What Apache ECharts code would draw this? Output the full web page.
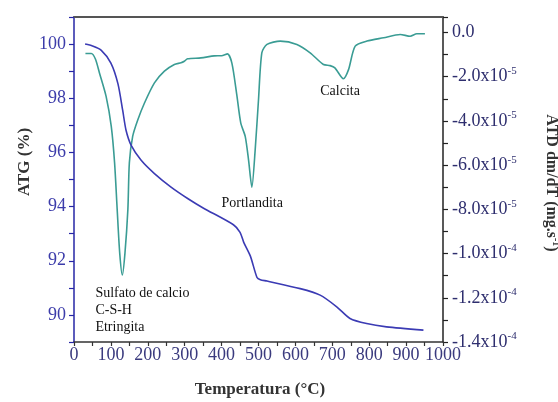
<!DOCTYPE html>
<html><head><meta charset="utf-8">
<script src="https://cdn.jsdelivr.net/npm/echarts@6/dist/echarts.min.js"></script>
<style>html,body{margin:0;padding:0;background:#fff}#c{width:558px;height:402px}</style>
</head><body><div id="c"></div>
<script>
// TGA: temperature (°C) and mass (%)
const tgaTemp = [30, 50, 74, 100, 119, 132, 141, 155, 182, 218, 263, 308, 350, 432, 450, 460, 478, 496, 505, 523, 613, 667, 712, 748, 793, 847, 947];
const tgaMass = [100.0, 99.93, 99.77, 99.3, 98.54, 97.55, 96.82, 96.26, 95.71, 95.22, 94.72, 94.30, 93.95, 93.33, 93.05, 92.68, 92.17, 91.38, 91.3, 91.25, 90.97, 90.73, 90.30, 89.87, 89.68, 89.56, 89.44];
// DTA: temperature (°C) and dm/dT in units of 1e-5 mg/s
const dtaTemp = [31, 47, 58, 69, 87, 101, 110, 117, 124, 131, 138, 146, 150, 159, 173, 191, 218, 245, 272, 290, 299, 308, 344, 380, 400, 416, 428, 441, 452, 464, 473, 482, 491, 500, 509, 523, 559, 604, 640, 676, 694, 707, 730, 744, 762, 794, 839, 884, 911, 929, 951];
const dtaRateE5 = [-0.95, -0.95, -1.2, -1.83, -2.89, -4.25, -5.9, -8.0, -10.0, -10.97, -10.0, -8.0, -5.9, -4.7, -3.95, -3.19, -2.28, -1.75, -1.45, -1.37, -1.30, -1.19, -1.15, -1.06, -1.05, -0.97, -1.4, -2.8, -4.1, -4.7, -5.76, -7.0, -5.31, -3.04, -0.92, -0.54, -0.39, -0.54, -0.92, -1.45, -1.50, -1.60, -2.09, -1.68, -0.62, -0.39, -0.24, -0.09, -0.17, -0.06, -0.06];
// right axis tick labels
const rightTickValues = [0, -2, -4, -6, -8, -10, -12, -14];
const rightTickMantissa = ['0.0', '-2.0', '-4.0', '-6.0', '-8.0', '-1.0', '-1.2', '-1.4'];
const rightTickExp = ['', '-5', '-5', '-5', '-5', '-4', '-4', '-4'];
// annotations: [temperature, ATG %, text]
const annotTemp = [721, 483, 58];
const annotMass = [98.25, 94.12, 91.1];
const annotText = ['Calcita', 'Portlandita', 'Sulfato de calcio\nC-S-H\nEtringita'];

const serif = '"Liberation Serif","DejaVu Serif",serif';
const chart = echarts.init(document.getElementById('c'), null, {renderer: 'canvas'});
const tgaData = tgaTemp.map((t, i) => [t, tgaMass[i]]);
const dtaData = dtaTemp.map((t, i) => [t, dtaRateE5[i]]);

const option = {
  animation: false,
  backgroundColor: '#fff',
  grid: {left: 74, right: 115, top: 17, bottom: 60, containLabel: false},
  xAxis: [{
    type: 'value', position: 'bottom', min: 0, max: 1000, interval: 50,
    axisLine: {show: true, onZero: false, lineStyle: {color: '#333', width: 1.5}},
    axisTick: {show: true, inside: false, length: 4, lineStyle: {color: '#333', width: 1.2}},
    axisLabel: {margin: 4, fontSize: 18, fontFamily: serif, color: '#3a3a7e',
      formatter: v => (Math.round(v) % 100 === 0 ? String(Math.round(v)) : '')},
    splitLine: {show: false}
  }, {
    type: 'value', position: 'top', min: 0, max: 1000,
    axisLine: {show: true, onZero: false, lineStyle: {color: '#555', width: 2}},
    axisTick: {show: false}, axisLabel: {show: false}, splitLine: {show: false}
  }],
  yAxis: [{
    type: 'value', position: 'left', min: 89, max: 101, interval: 1,
    axisLine: {show: true, onZero: false, lineStyle: {color: '#2626a6', width: 1.5}},
    axisTick: {show: true, inside: false, length: 5, lineStyle: {color: '#2626a6', width: 1.2}},
    axisLabel: {margin: 8, fontSize: 18, fontFamily: serif, color: '#3c3caa',
      formatter: v => (Math.round(v) % 2 === 0 ? String(Math.round(v)) : '')},
    splitLine: {show: false}
  }, {
    type: 'value', position: 'right', min: -14, max: 0.7, interval: 1,
    axisLine: {show: true, onZero: false, lineStyle: {color: '#222', width: 1.5}},
    axisTick: {show: true, inside: false, length: 5, lineStyle: {color: '#222', width: 1.2}},
    axisLabel: {margin: 9, color: '#2e2e6e',
      formatter: v => {
        const i = rightTickValues.indexOf(Math.round(v * 1000) / 1000);
        if (i < 0) return '';
        return rightTickExp[i] ? '{m|' + rightTickMantissa[i] + 'x10}{e|' + rightTickExp[i] + '}' : '{m|' + rightTickMantissa[i] + '}';
      },
      rich: {
        m: {fontSize: 18, fontFamily: serif, color: '#2e2e6e', lineHeight: 22},
        e: {fontSize: 11, fontFamily: serif, color: '#2e2e6e', verticalAlign: 'top', lineHeight: 22}
      }
    },
    splitLine: {show: false}
  }],
  series: [{
    name: 'ATG', type: 'line', xAxisIndex: 0, yAxisIndex: 0, data: tgaData,
    showSymbol: false, smooth: 0.25, lineStyle: {color: '#3b3bb4', width: 1.6}, z: 3
  }, {
    name: 'ATD', type: 'line', xAxisIndex: 0, yAxisIndex: 1, data: dtaData,
    showSymbol: false, smooth: 0.25, lineStyle: {color: '#3a9c94', width: 1.6}, z: 2
  }]
};
chart.setOption(option);

const graphics = [
  {type: 'text', x: 25, y: 162, rotation: Math.PI / 2,
    style: {text: 'ATG (%)', font: 'bold 17px ' + serif, fill: '#333', align: 'center', verticalAlign: 'middle'}},
  {type: 'text', x: 551, y: 183, rotation: -Math.PI / 2,
    style: {text: '{a|ATD dm/dT (mg.s}{s|-1}{a|)}', align: 'center', verticalAlign: 'middle',
      rich: {a: {font: 'bold 16px ' + serif, fill: '#333', lineHeight: 20},
             s: {font: 'bold 10px ' + serif, fill: '#333', verticalAlign: 'top', lineHeight: 20}}}},
  {type: 'text', x: 260, y: 390,
    style: {text: 'Temperatura (°C)', font: 'bold 17px ' + serif, fill: '#333', align: 'center', verticalAlign: 'middle'}}
];
annotText.forEach((t, i) => {
  const p = chart.convertToPixel({xAxisIndex: 0, yAxisIndex: 0}, [annotTemp[i], annotMass[i]]);
  const multi = t.indexOf('\n') >= 0;
  graphics.push({type: 'text', x: p[0], y: p[1], z: 10,
    style: {text: t, font: '14px ' + serif, fill: '#111', lineHeight: 17,
      align: multi ? 'left' : 'center', verticalAlign: multi ? 'top' : 'middle'}});
});
chart.setOption({graphic: graphics});
</script>
</body></html>
